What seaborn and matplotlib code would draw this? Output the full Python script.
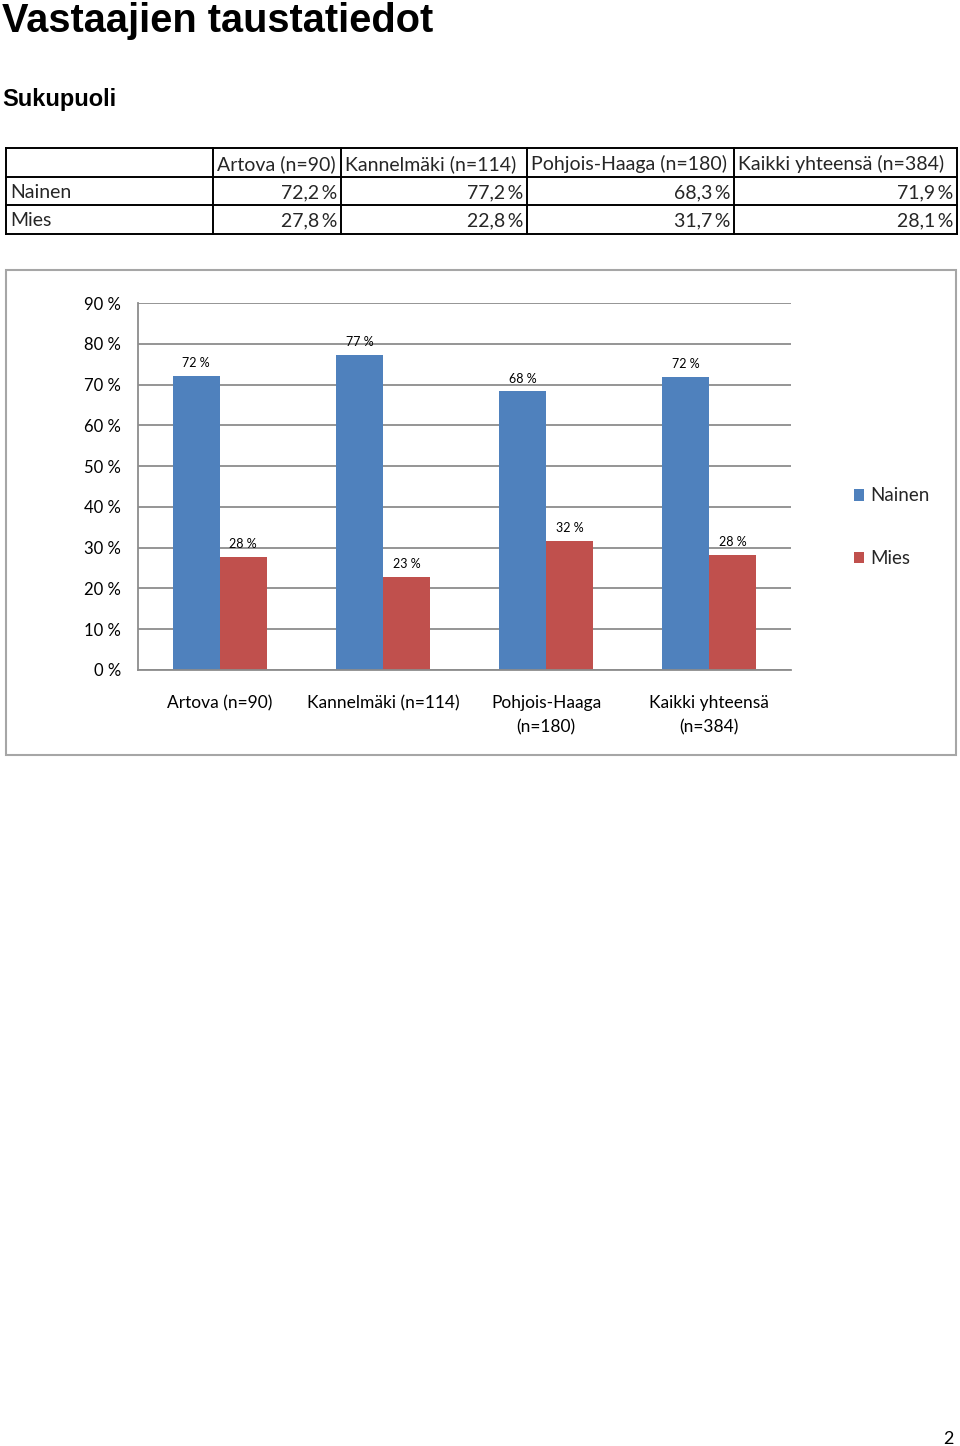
import matplotlib
matplotlib.use("Agg")
import matplotlib.pyplot as plt
import seaborn as sns
import pandas as pd
from matplotlib.patches import Rectangle

# ---------------- data ----------------
categories = ["Artova (n=90)", "Kannelmäki (n=114)", "Pohjois-Haaga (n=180)", "Kaikki yhteensä (n=384)"]
tick_labels = ["Artova (n=90)", "Kannelmäki (n=114)", "Pohjois-Haaga\n(n=180)", "Kaikki yhteensä\n(n=384)"]
series = ["Nainen", "Mies"]
nainen = [72.2, 77.2, 68.3, 71.9]
mies = [27.8, 22.8, 31.7, 28.1]
y_ticks = [0, 10, 20, 30, 40, 50, 60, 70, 80, 90]
title = "Vastaajien taustatiedot"
subtitle = "Sukupuoli"
page_no = "2"

colors = {"Nainen": "#4F81BD", "Mies": "#C0504D"}

sns.set_style("white")
plt.rcParams["font.family"] = ["Lato", "DejaVu Sans"]

W, H = 960, 1446
fig = plt.figure(figsize=(W / 100, H / 100), dpi=100)
fig.patch.set_facecolor("white")

# page overlay in pixel coordinates
page = fig.add_axes([0, 0, 1, 1], zorder=0)
page.set_xlim(0, W)
page.set_ylim(H, 0)
page.axis("off")

page.text(2, 32, title, fontsize=28.6, fontweight="bold", family="Liberation Sans",
          ha="left", va="baseline", color="black")
page.text(2, 106, subtitle, fontsize=17, fontweight="bold", family="Liberation Sans",
          ha="left", va="baseline", color="black")
page.text(954, 1444, page_no, fontsize=13, ha="right", va="baseline", color="black")

# ---------------- table ----------------
col_edges = [6, 213, 341, 527, 734, 957]
row_edges = [148, 177, 205, 234]
for x in col_edges:
    page.plot([x, x], [row_edges[0], row_edges[-1]], color="black", lw=1.4, solid_capstyle="projecting")
for y in row_edges:
    page.plot([col_edges[0], col_edges[-1]], [y, y], color="black", lw=1.4, solid_capstyle="projecting")

def fmt_fi(v):
    return f"{v:.1f}\u2009%".replace(".", ",")

tfs = 14
for j, cat in enumerate(categories):
    page.text(col_edges[j + 1] + 4, (row_edges[0] + row_edges[1]) / 2 + 1.5, cat,
              fontsize=tfs, ha="left", va="center")
for i, (name, vals) in enumerate(zip(series, [nainen, mies])):
    yc = (row_edges[i + 1] + row_edges[i + 2]) / 2 + 1.5
    page.text(col_edges[0] + 4, yc, name, fontsize=tfs, ha="left", va="center")
    for j, v in enumerate(vals):
        page.text(col_edges[j + 2] - 4, yc, fmt_fi(v), fontsize=tfs, ha="right", va="center")

# chart frame
page.add_patch(Rectangle((6, 270), 950, 485, fill=False, edgecolor="#A6A6A6", lw=1.5))

# ---------------- chart ----------------
df = pd.DataFrame({
    "Alue": categories * 2,
    "Sukupuoli": ["Nainen"] * len(categories) + ["Mies"] * len(categories),
    "Osuus": nainen + mies,
})

ax = fig.add_axes([138 / W, 1 - 670 / H, 653 / W, 367 / H], zorder=1)
ax.set_facecolor("none")
sns.barplot(data=df, x="Alue", y="Osuus", hue="Sukupuoli", hue_order=series,
            palette=colors, saturation=1, width=0.576, gap=0, ax=ax, legend=True,
            linewidth=0)

ax.set_xlim(-0.5, len(categories) - 0.5)
ax.set_ylim(0, 90)
ax.set_yticks(y_ticks)
ax.set_yticklabels([f"{t} %" for t in y_ticks])
ax.set_xticks(range(len(categories)))
ax.set_xticklabels(tick_labels, linespacing=1.6)
ax.set_xlabel("")
ax.set_ylabel("")
ax.tick_params(axis="y", length=0, pad=12, labelsize=12, labelcolor="black")
ax.tick_params(axis="x", length=0, pad=18, labelsize=12.5, labelcolor="black")
ax.yaxis.grid(True, color="#8C8C8C", lw=1.3)
ax.set_axisbelow(True)
for s in ["top", "right"]:
    ax.spines[s].set_visible(False)
for s in ["left", "bottom"]:
    ax.spines[s].set_color("#8C8C8C")
    ax.spines[s].set_linewidth(1.3)

for container, vals in zip(ax.containers, [nainen, mies]):
    ax.bar_label(container, labels=[f"{round(v)} %" for v in vals], padding=5,
                 fontsize=9, color="black")

handles, labels = ax.get_legend_handles_labels()
if ax.get_legend() is not None:
    ax.get_legend().remove()
fig.legend(handles, labels, loc="upper left", bbox_to_anchor=(846 / W, 1 - 480 / H),
           frameon=False, fontsize=13.5, handlelength=0.55, handleheight=0.55,
           handletextpad=0.35, labelspacing=2.45, borderaxespad=0)

fig.savefig("out.png", dpi=100, facecolor="white")
